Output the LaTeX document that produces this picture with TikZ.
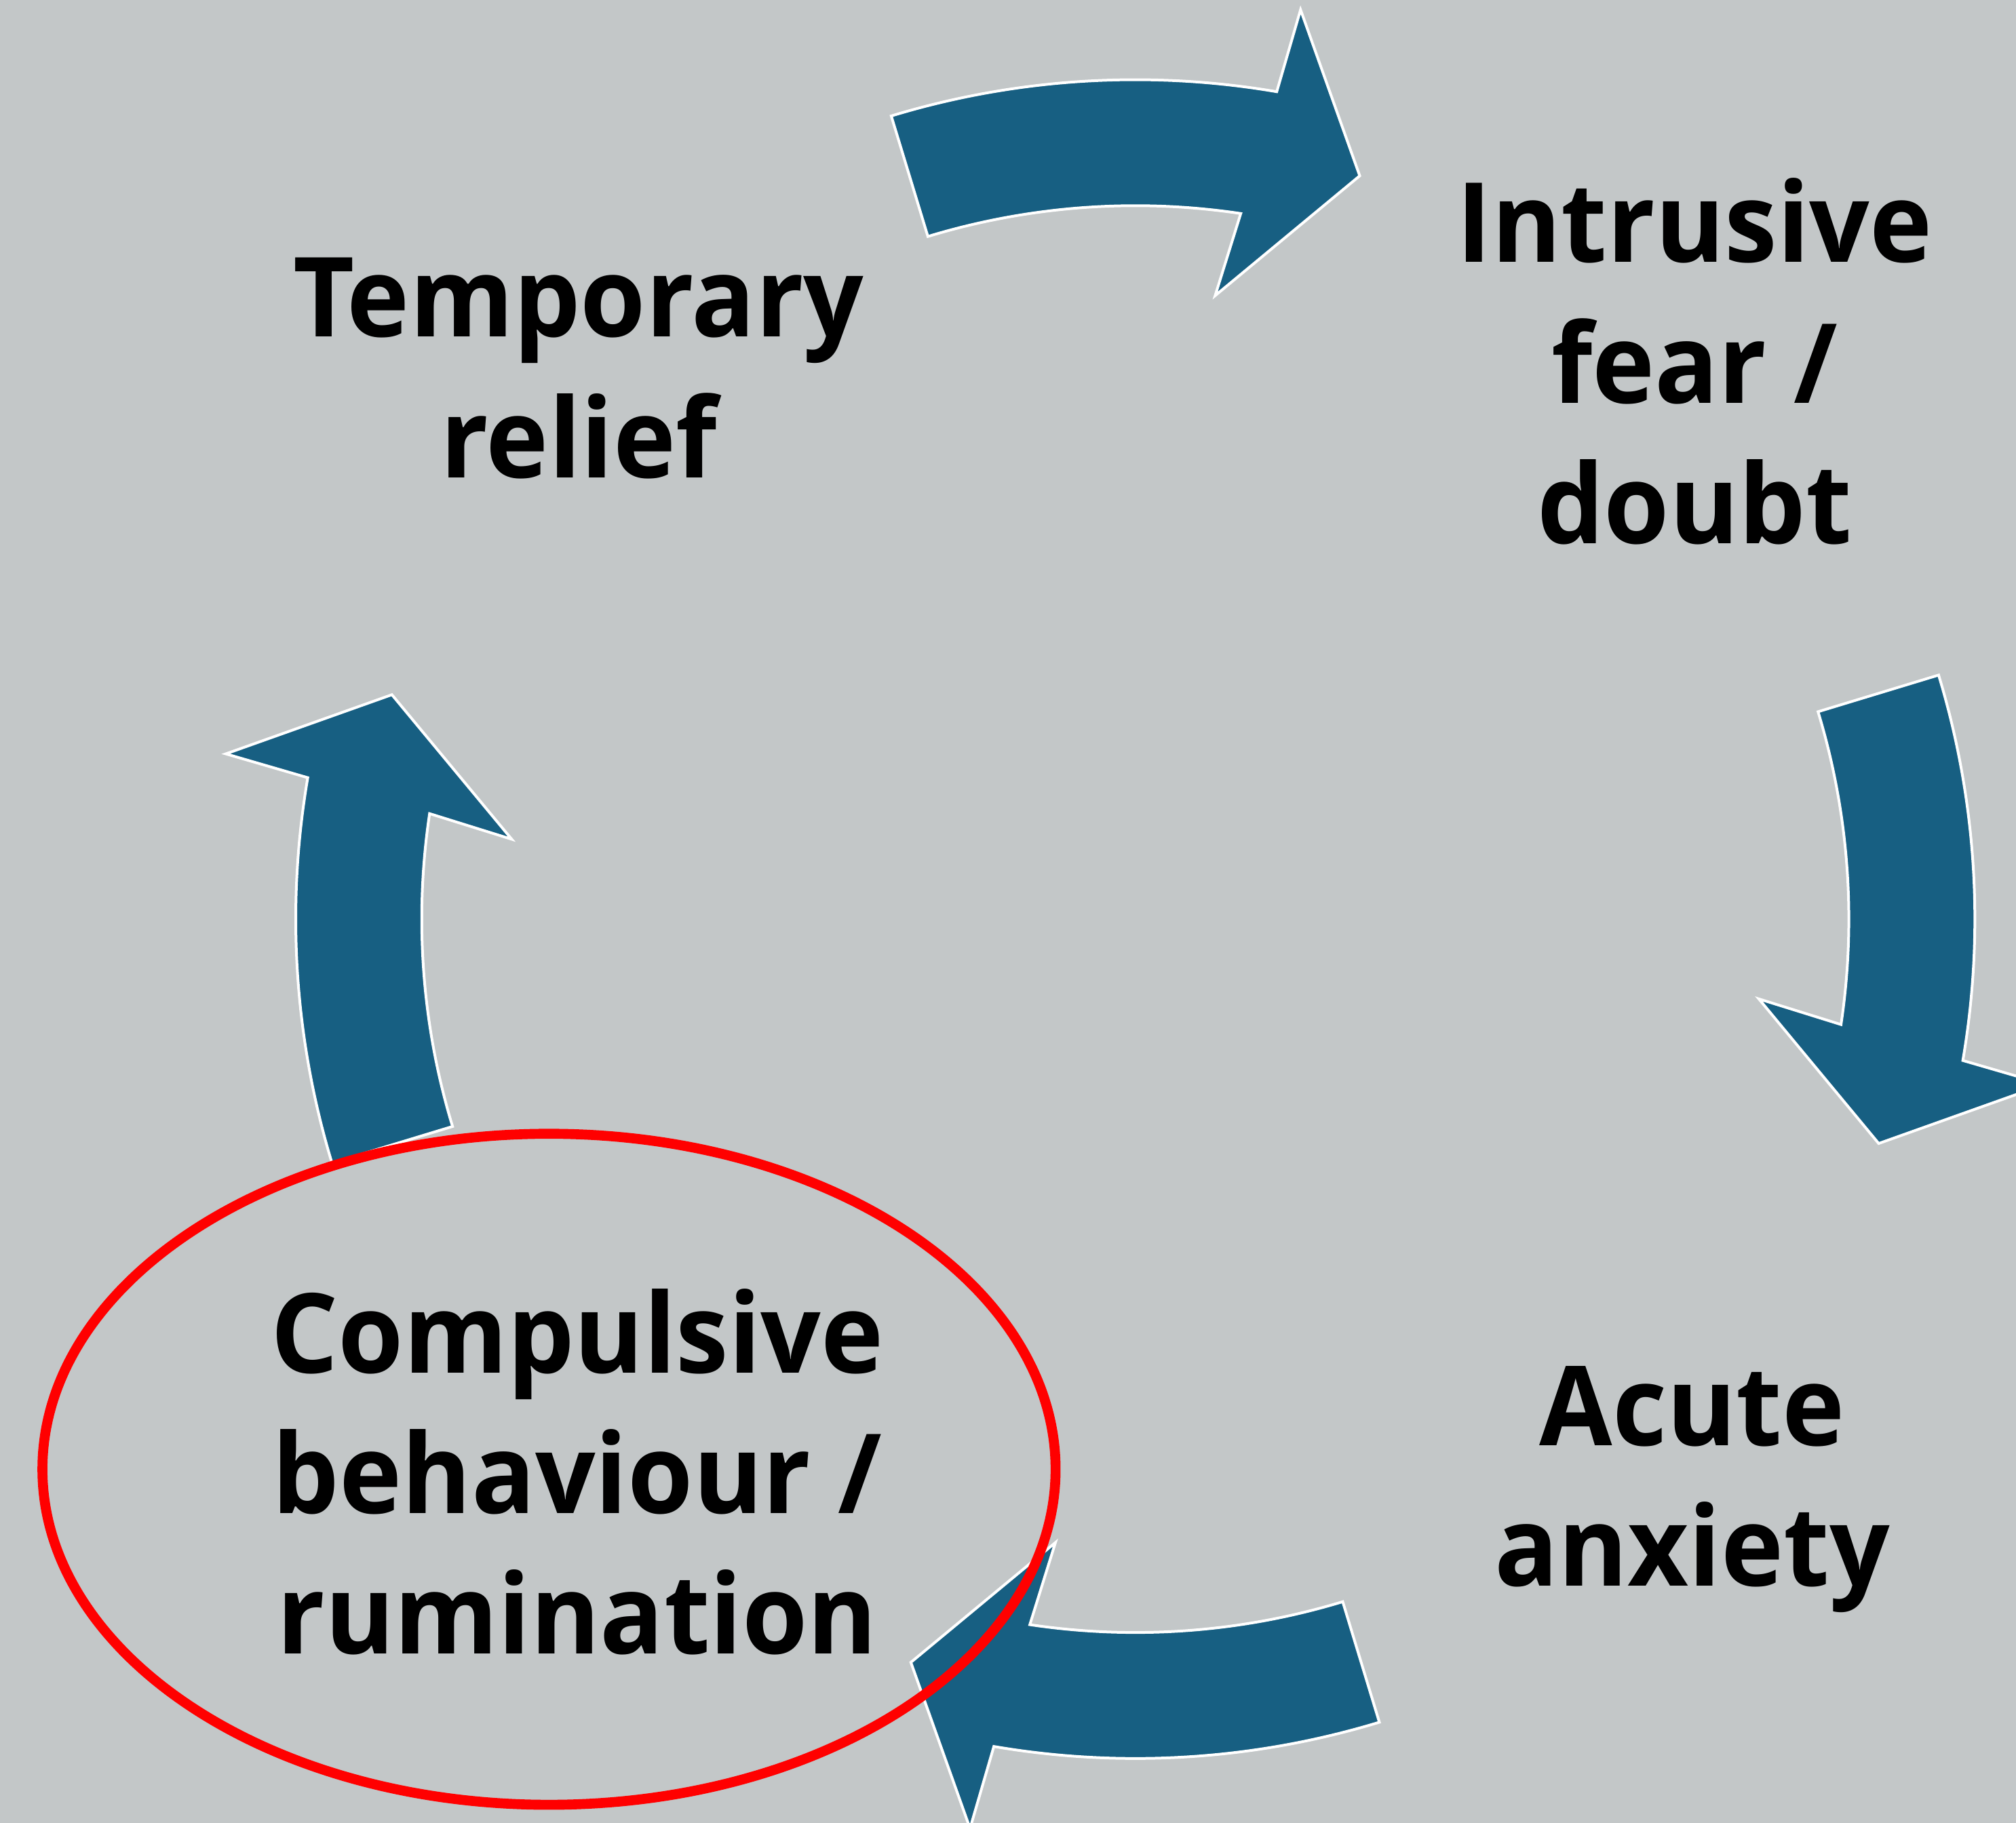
\documentclass[tikz,border=0pt]{standalone}
\usepackage{fontspec}
\setmainfont{Open Sans}[BoldFeatures={FakeStretch=0.955}]
\definecolor{bgGrey}{HTML}{C3C7C8}
\definecolor{cycleBlue}{HTML}{175F82}

\tikzset{
  cyclearrow/.style={fill=cycleBlue, draw=white, line width=0.6pt},
  stage/.style={font=\bfseries\fontsize{24.5}{31.1}\selectfont, align=center, anchor=north, inner sep=0pt},
  redring/.style={draw=red, line width=2.2pt}
}

\begin{document}
\begin{tikzpicture}
	\useasboundingbox (0,0) rectangle (15.68,14.18);
	\clip (0,0) rectangle (15.68,14.18);
	\fill[bgGrey] (0,0) rectangle (15.68,14.18);
	\coordinate (c) at (8.83,7.03);
	% four curved arrows, clockwise
	\foreach \r in {0,-90,-180,-270}{
		\begin{scope}[shift={(c)}, rotate=\r]
			\draw[cyclearrow] (106.9:6.53) arc[start angle=106.9, end angle=80.3, radius=6.53]
				-- (79.7:7.19) -- (73.2:6.04) -- (82.7:4.89) -- (81.5:5.55)
				arc[start angle=81.5, end angle=106.9, radius=5.55] -- cycle;
		\end{scope}
	}
	\node[stage] (relief) at (4.50,12.18) {Temporary\\relief};
	\node[stage] (intrusive) at (13.18,12.80) {Intrusive\\fear /\\doubt};
	\node[stage] (anxiety) at (13.16,3.56) {Acute\\anxiety};
	\node[stage] (compulsive) at (4.49,4.16) {Compulsive\\behaviour /\\rumination};
	\draw[redring] (4.27,2.75) ellipse [x radius=3.94, y radius=2.61];
\end{tikzpicture}
\end{document}
